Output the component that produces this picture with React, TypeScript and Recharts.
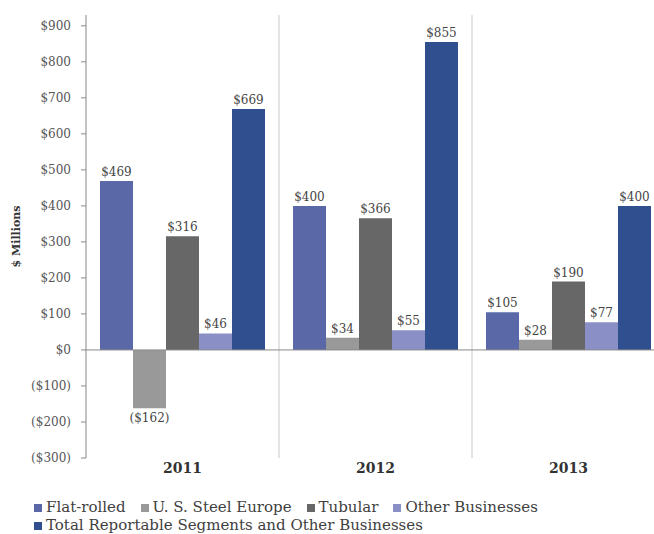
import React from 'react';
import { BarChart, Bar, XAxis, YAxis, CartesianGrid, ReferenceLine, LabelList, Legend } from 'recharts';

const years = ['2011', '2012', '2013'];
const flatRolled = [469, 400, 105];
const steelEurope = [-162, 34, 28];
const tubular = [316, 366, 190];
const otherBusinesses = [46, 55, 77];
const totalSegments = [669, 855, 400];
const yTicks = [-300, -200, -100, 0, 100, 200, 300, 400, 500, 600, 700, 800, 900];

const series = [
    { key: 'flat', name: 'Flat-rolled', color: '#5a68a8', values: flatRolled },
    { key: 'usse', name: 'U. S. Steel Europe', color: '#999999', values: steelEurope },
    { key: 'tub', name: 'Tubular', color: '#676767', values: tubular },
    { key: 'other', name: 'Other Businesses', color: '#8a90c6', values: otherBusinesses },
    { key: 'total', name: 'Total Reportable Segments and Other Businesses', color: '#2f4f8f', values: totalSegments },
];

const data = years.map((year, i) => {
    const row: Record<string, any> = { year };
    series.forEach(s => { row[s.key] = s.values[i]; });
    return row;
});

// drop the default body margin so the page is exactly the chart (no scrollbar)
if (typeof document !== 'undefined') {
    document.body.style.margin = '0';
    document.body.style.overflow = 'hidden';
}

const FONT = '"DejaVu Serif", serif';
const money = (v: any) => (v < 0 ? `($${-v})` : `$${v}`);

const LegendBox = () => (
    <div style={{ fontFamily: FONT, fontSize: 15, color: '#404040', paddingLeft: 34, paddingTop: 4, lineHeight: '18px', height: 40, boxSizing: 'border-box' }}>
        {[series.slice(0, 4), series.slice(4)].map((row, r) => (
            <div key={r} style={{ whiteSpace: 'nowrap' }}>
                {row.map(s => (
                    <span key={s.key} style={{ marginRight: 15 }}>
                        <span style={{ display: 'inline-block', width: 8, height: 8, background: s.color, marginRight: 4 }} />
                        {s.name}
                    </span>
                ))}
            </div>
        ))}
    </div>
);

export default function App() {
    return (
        <div style={{ position: 'relative', width: 654, height: 534, overflow: 'hidden' }}>
            <BarChart
                width={680}
                height={534}
                data={data}
                margin={{ top: 15, right: 15, left: 0, bottom: 0 }}
                barCategoryGap={14}
                barGap={0}
                style={{ position: 'absolute', left: 0, top: 0 }}
            >
                <CartesianGrid
                    horizontal={false}
                    stroke="#c8c8c8"
                    verticalCoordinatesGenerator={({ offset }: any) => [offset.left + offset.width / 3, offset.left + (2 * offset.width) / 3]}
                />
                <XAxis
                    dataKey="year"
                    axisLine={false}
                    tickLine={false}
                    tickSize={0}
                    tickMargin={5}
                    height={36}
                    tick={{ fontFamily: FONT, fontSize: 14, fontWeight: 'bold', fill: '#333' }}
                />
                <YAxis
                    width={86}
                    domain={[-300, 930]}
                    ticks={yTicks}
                    tickFormatter={money}
                    stroke="#888"
                    tickSize={5}
                    tickMargin={10}
                    tick={{ fontFamily: FONT, fontSize: 12, fill: '#555' }}
                    label={({ viewBox }: any) => {
                        const cy = viewBox.y + viewBox.height / 2;
                        return (
                            <text x={20} y={cy} transform={`rotate(-90, 20, ${cy})`} textAnchor="middle" fontFamily={FONT} fontSize={11} fontWeight="bold" fill="#333">
                                $ Millions
                            </text>
                        );
                    }}
                />
                {series.map(s => (
                    <Bar key={s.key} dataKey={s.key} name={s.name} fill={s.color} isAnimationActive={false}>
                        <LabelList dataKey={s.key} position="top" offset={5} formatter={money} style={{ fontFamily: FONT, fontSize: 12, fill: '#444' }} />
                    </Bar>
                ))}
                <ReferenceLine y={0} stroke="#8a8a8a" />
                <Legend verticalAlign="bottom" align="left" content={() => <LegendBox />} />
            </BarChart>
        </div>
    );
}
